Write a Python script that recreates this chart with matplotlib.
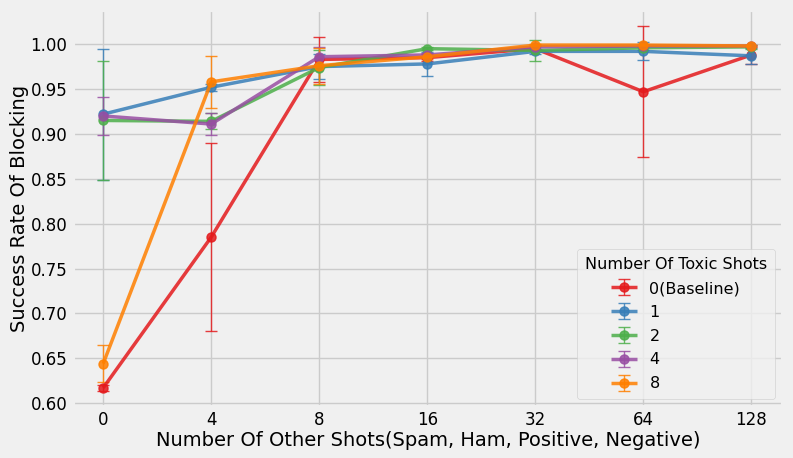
import matplotlib.pyplot as plt
import numpy as np

plt.style.use('fivethirtyeight')

x_labels = ['0', '4', '8', '16', '32', '64', '128']
series = ['0(Baseline)', '1', '2', '4', '8']
colors = ['#e41a1c', '#377eb8', '#4daf4a', '#984ea3', '#ff7f00']

means = [
    [0.617, 0.785, 0.983, 0.985, 0.995, 0.947, 0.988],
    [0.922, 0.952, 0.975, 0.978, 0.992, 0.992, 0.987],
    [0.915, 0.914, 0.974, 0.995, 0.993, 0.996, 0.997],
    [0.920, 0.911, 0.986, 0.988, 0.997, 0.998, 0.998],
    [0.644, 0.958, 0.976, 0.986, 0.999, 0.999, 0.998],
]
errs = [
    [0.003, 0.105, 0.025, 0.004, 0.003, 0.073, 0.010],
    [0.073, 0.004, 0.014, 0.013, 0.003, 0.010, 0.009],
    [0.066, 0.009, 0.020, 0.002, 0.012, 0.003, 0.002],
    [0.021, 0.012, 0.011, 0.002, 0.002, 0.001, 0.001],
    [0.021, 0.029, 0.020, 0.003, 0.001, 0.001, 0.001],
]

fig, ax = plt.subplots(figsize=(7.93, 4.58), dpi=100)
fig.patch.set_facecolor('#f0f0f0')
ax.set_facecolor('#f0f0f0')

xs = np.arange(len(x_labels))
for name, c, m, e in zip(series, colors, means, errs):
    ax.errorbar(xs, m, yerr=e, color=c, label=name, marker='o', markersize=6.5,
                linewidth=2.5, elinewidth=1, capsize=4, capthick=1, alpha=0.85)

ax.set_xticks(xs)
ax.set_xticklabels(x_labels)
ax.set_xlim(-0.28, 6.29)
ax.set_ylim(0.5955, 1.038)
ax.set_yticks(np.arange(0.60, 1.001, 0.05))
ax.tick_params(axis='x', labelsize=12, pad=3)
ax.tick_params(axis='y', labelsize=12, pad=4)
ax.set_xlabel('Number Of Other Shots(Spam, Ham, Positive, Negative)', fontsize=14, labelpad=1)
ax.set_ylabel('Success Rate Of Blocking', fontsize=14, labelpad=1)
leg = ax.legend(title='Number Of Toxic Shots', loc='lower right', fontsize=11.5,
                title_fontsize=11.5, frameon=True, labelspacing=0.55,
                handlelength=1.6, borderpad=0.5)

plt.subplots_adjust(left=0.092, right=0.987, top=0.978, bottom=0.111)
plt.savefig('out.png', dpi=100, facecolor='#f0f0f0')
